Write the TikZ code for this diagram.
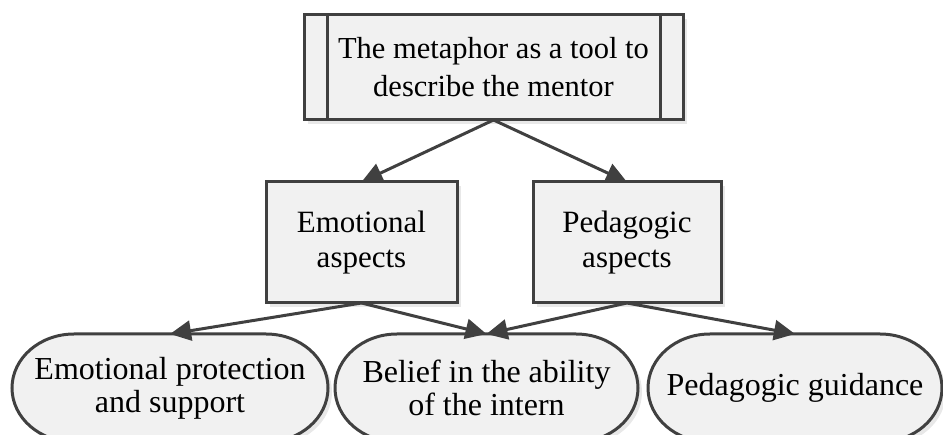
\documentclass[tikz,border=0pt]{standalone}
\usepackage{fontspec}
\setmainfont{Liberation Serif}
\usetikzlibrary{arrows.meta,shadows,backgrounds}
\definecolor{LineGray}{RGB}{64,64,64}
\definecolor{BoxFill}{RGB}{241,241,241}

\begin{document}
\begin{tikzpicture}[x=1pt, y=1pt,
	box/.style={draw=LineGray, line width=3pt, fill=BoxFill, align=center, inner sep=0pt, outer sep=0pt,
		drop shadow={shadow xshift=4pt, shadow yshift=-4pt, fill=black!18}},
	pill/.style={minimum width=#1, minimum height=108pt, align=center, inner sep=0pt, outer sep=0pt,
		font=\fontsize{32}{33}\selectfont},
	pillline/.style={draw=LineGray, line width=3pt, fill=BoxFill,
		drop shadow={shadow xshift=4pt, shadow yshift=-4pt, fill=black!18}},
	link/.style={LineGray, line width=3pt, -{Triangle[length=21pt, width=20pt]}}]
	\useasboundingbox (0,0) rectangle (943,434);
	% top: predefined-process box
	\node[box, minimum width=379pt, minimum height=105pt, font=\fontsize{30.5}{38}\selectfont]
		(metaphor) at (493.5,366.5) {The metaphor as a tool to\\describe the mentor};
	\draw[LineGray, line width=3pt] ([xshift=23pt]metaphor.north west) -- ([xshift=23pt]metaphor.south west);
	\draw[LineGray, line width=3pt] ([xshift=-23pt]metaphor.north east) -- ([xshift=-23pt]metaphor.south east);
	% middle row
	\node[box, minimum width=191pt, minimum height=121pt, font=\fontsize{31}{35}\selectfont]
		(emo) at (361.5,191.5) {Emotional\\aspects};
	\node[box, minimum width=188pt, minimum height=121pt, font=\fontsize{31}{35}\selectfont]
		(ped) at (627,191.5) {Pedagogic\\aspects};
	% bottom row
	\node[pill=316pt] (protect) at (170,46) {Emotional protection\\and support};
	\node[pill=303pt] (belief) at (486.5,46) {Belief in the ability\\of the intern};
	\node[pill=294pt] (guide) at (795,46) {Pedagogic guidance};
	\begin{scope}[on background layer]
		\foreach \n in {protect,belief,guide}
			\path[pillline] ([xshift=62pt]\n.north west) -- ([xshift=-62pt]\n.north east)
				arc[start angle=90, end angle=-90, x radius=62pt, y radius=54pt]
				-- ([xshift=62pt]\n.south west)
				arc[start angle=270, end angle=90, x radius=62pt, y radius=54pt] -- cycle;
	\end{scope}
	% connectors
	\draw[link] (metaphor.south) -- (emo.north);
	\draw[link] (metaphor.south) -- (ped.north);
	\draw[link] (emo.south) -- (protect.north);
	\draw[link] (emo.south) -- (belief.north);
	\draw[link] (ped.south) -- (belief.north);
	\draw[link] (ped.south) -- (guide.north);
\end{tikzpicture}
\end{document}
